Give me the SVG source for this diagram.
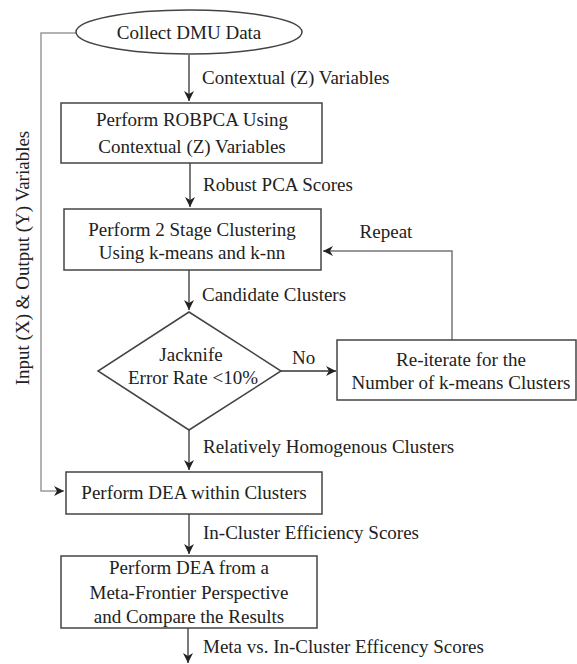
<svg xmlns="http://www.w3.org/2000/svg" width="577" height="664" viewBox="0 0 577 664">
<defs>
<marker id="ah" viewBox="0 0 10 10" refX="10" refY="5" markerWidth="7" markerHeight="7" orient="auto" markerUnits="userSpaceOnUse">
<path d="M0,0 L10,5 L0,10 L3,5 z" fill="#222"/>
</marker>
<marker id="ahL" viewBox="0 0 10 10" refX="10" refY="5" markerWidth="14" markerHeight="10" orient="auto" markerUnits="userSpaceOnUse">
<path d="M0,0 L10,5 L0,10 L3,5 z" fill="#222"/>
</marker>
<style>
.n{fill:#fff;stroke:#444;stroke-width:1.5}
.t{font-family:"Liberation Serif","Times New Roman",serif;font-size:19px;fill:#222}
.m{text-anchor:middle}
.c{fill:none;stroke:#333;stroke-width:1.3}
.g{fill:none;stroke:#999;stroke-width:1.5}
</style>
</defs>
<rect width="577" height="664" fill="#fff"/>
<g id="connectors">
<path class="g" d="M76,33 H41 V491 H64" marker-end="url(#ahL)"/>
<path class="c" d="M189,55 V101" marker-end="url(#ahL)"/>
<path class="c" d="M190,163 V207" marker-end="url(#ahL)"/>
<path class="c" d="M189,270 V310" marker-end="url(#ahL)"/>
<path class="c" d="M281,371 H336" marker-end="url(#ahL)"/>
<path class="g" d="M452,340 V251 H323" marker-end="url(#ahL)" style="stroke:#777"/>
<path class="c" d="M189,430 V470" marker-end="url(#ahL)"/>
<path class="c" d="M189,514 V554" marker-end="url(#ahL)"/>
<path class="c" d="M188,628 V663" marker-end="url(#ahL)"/>
<text class="t" x="202" y="84">Contextual (Z) Variables</text>
<text class="t" x="203" y="191">Robust PCA Scores</text>
<text class="t" x="386" y="238" text-anchor="middle">Repeat</text>
<text class="t" x="202" y="301">Candidate Clusters</text>
<text class="t" x="292" y="364">No</text>
<text class="t" x="203" y="453">Relatively Homogenous Clusters</text>
<text class="t" x="203" y="539">In-Cluster Efficiency Scores</text>
<text class="t" x="203" y="653">Meta vs. In-Cluster Efficency Scores</text>
<text class="t m" transform="translate(29,258) rotate(-90)" x="0" y="0">Input (X) &amp; Output (Y) Variables</text>
</g>
<g id="collect">
<ellipse class="n" cx="189" cy="32" rx="113" ry="22"/>
<text class="t m" x="189" y="39">Collect DMU Data</text>
</g>
<g id="robpca">
<rect class="n" x="61" y="103" width="261" height="60"/>
<text class="t m" x="192" y="126">Perform ROBPCA Using</text>
<text class="t m" x="192" y="153">Contextual (Z) Variables</text>
</g>
<g id="clustering">
<rect class="n" x="64" y="209" width="257" height="61"/>
<text class="t m" x="192" y="236">Perform 2 Stage Clustering</text>
<text class="t m" x="192" y="259">Using k-means and k-nn</text>
</g>
<g id="jacknife">
<polygon class="n" points="189,312 281,371 189,430 98,371"/>
<text class="t m" x="191" y="361">Jacknife</text>
<text class="t m" x="193" y="384">Error Rate &lt;10%</text>
</g>
<g id="reiterate">
<rect class="n" x="337" y="340" width="239" height="60"/>
<text class="t m" x="461" y="366">Re-iterate for the</text>
<text class="t m" x="461" y="389">Number of k-means Clusters</text>
</g>
<g id="dea">
<rect class="n" x="66" y="472" width="256" height="42"/>
<text class="t m" x="194" y="499">Perform DEA within Clusters</text>
</g>
<g id="meta">
<rect class="n" x="61" y="556" width="256" height="72"/>
<text class="t m" x="189" y="574">Perform DEA from a</text>
<text class="t m" x="189" y="599">Meta-Frontier Perspective</text>
<text class="t m" x="189" y="623">and Compare the Results</text>
</g>
</svg>
